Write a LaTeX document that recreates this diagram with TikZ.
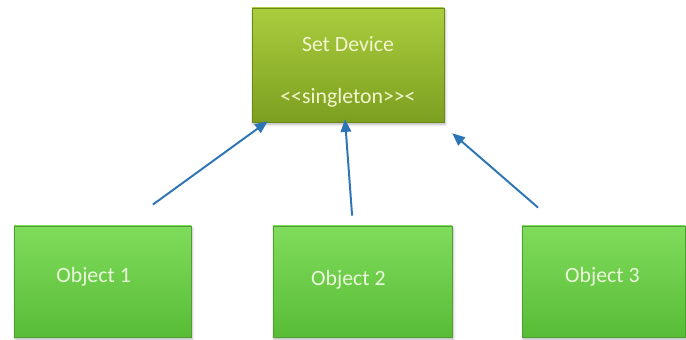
\documentclass[tikz,border=0pt]{standalone}
\usepackage{fontspec}
\setmainfont{Carlito}
\usepackage{tikz}
\usetikzlibrary{arrows.meta, positioning, calc, shadows.blur}
\definecolor{devtop}{HTML}{AACD3E}
\definecolor{devbot}{HTML}{7D9F20}
\definecolor{devtext}{HTML}{F1F6CF}
\definecolor{objtop}{HTML}{80DC5C}
\definecolor{objbot}{HTML}{58BC36}
\definecolor{objedge}{HTML}{4F9E32}
\definecolor{objtext}{HTML}{EAF9DC}
\definecolor{linkblue}{HTML}{2E75B6}

\begin{document}
\begin{tikzpicture}[
    classbox/.style={rectangle, top color=devtop, bottom color=devbot, draw=devbot!85!black,
                     line width=0.4pt, minimum width=4.8cm, minimum height=2.85cm,
                     blur shadow={shadow xshift=0.8pt, shadow yshift=-1.6pt, shadow opacity=30}},
    objbox/.style={rectangle, top color=objtop, bottom color=objbot, draw=objedge,
                   line width=0.6pt, minimum height=2.775cm,
                   blur shadow={shadow xshift=0.8pt, shadow yshift=-1.6pt, shadow opacity=30}},
    txt/.style={font=\fontsize{15.5}{18}\selectfont},
    link/.style={draw=linkblue, line width=1.4pt, -{Triangle[length=9pt, width=7.5pt]}}
]
    \useasboundingbox (0,0) rectangle (17.15,8.5);

    % Singleton class at the top
    \node[classbox] (setdev) at (8.7, 6.875) {};
    \node[txt, text=devtext] (devname) at (8.7, 7.4) {Set Device};
    \node[txt, text=devtext] (devtype) at (8.7, 6.05) {<\kern0pt<singleton>\kern0pt>\kern0pt<};

    % Client objects
    \node[objbox, minimum width=4.425cm] (obj1) at (2.5625, 1.4625) {};
    \node[objbox, minimum width=4.475cm] (obj2) at (9.0625, 1.4625) {};
    \node[objbox, minimum width=4.075cm] (obj3) at (15.09, 1.4625) {};
    \node[txt, text=objtext] (lbl1) at (2.34, 1.575) {Object 1};
    \node[txt, text=objtext] (lbl2) at (8.71, 1.5) {Object 2};
    \node[txt, text=objtext] (lbl3) at (15.06, 1.575) {Object 3};

    % Arrow ends
    \coordinate (from1) at ($(obj1.north)+(1.26,0.525)$);
    \coordinate (from2) at ($(obj2.north)+(-0.26,0.25)$);
    \coordinate (from3) at ($(obj3.north)+(-1.64,0.45)$);
    \coordinate (to1) at ($(setdev.south west)+(0.4,0.025)$);
    \coordinate (to2) at ($(setdev.south)+(-0.075,0.075)$);
    \coordinate (to3) at ($(setdev.south east)+(0.2,-0.275)$);

    \draw[link] (from1) -- (to1);
    \draw[link] (from2) -- (to2);
    \draw[link] (from3) -- (to3);

\end{tikzpicture}
\end{document}
